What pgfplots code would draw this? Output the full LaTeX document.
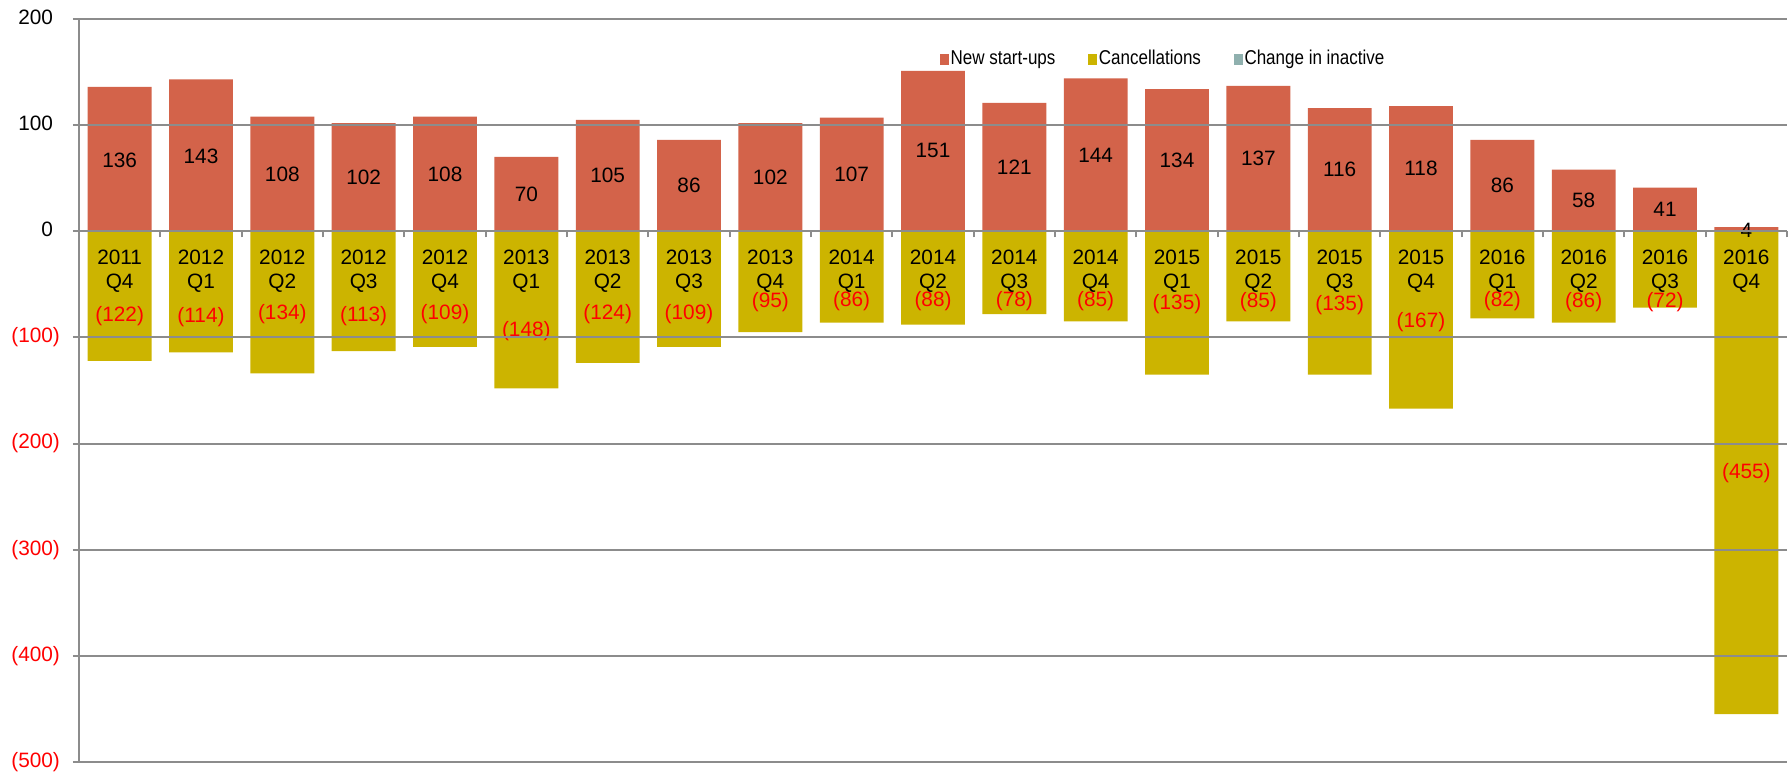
\documentclass[border=0pt]{standalone}
\usepackage{pgfplots}
\pgfplotsset{compat=1.18}
\usepackage{pgfplotstable}
\usepackage{fontspec}
\setmainfont{Liberation Sans}
\newfontfamily\legendfont[FakeStretch=0.85]{Liberation Sans}
\definecolor{newc}{RGB}{211,99,74}
\definecolor{canc}{RGB}{204,180,0}
\definecolor{inact}{RGB}{143,176,174}
\definecolor{gridc}{RGB}{140,140,140}

\pgfplotstableread{
x new canc
0 136 -122
1 143 -114
2 108 -134
3 102 -113
4 108 -109
5 70 -148
6 105 -124
7 86 -109
8 102 -95
9 107 -86
10 151 -88
11 121 -78
12 144 -85
13 134 -135
14 137 -85
15 116 -135
16 118 -167
17 86 -82
18 58 -86
19 41 -72
20 4 -455
}\data

\pgfplotstableread{
x y lab
0 67 136
1 71 143
2 54 108
3 51 102
4 54 108
5 35 70
6 52.5 105
7 43 86
8 51 102
9 53.5 107
10 76 151
11 60.5 121
12 72 144
13 67 134
14 68.5 137
15 58 116
16 59 118
17 43 86
18 29 58
19 20.5 41
20 1 4
}\poslab

\pgfplotstableread{
x y lab
0 -80 (122)
1 -81 (114)
2 -78 (134)
3 -80 (113)
4 -78 (109)
5 -94 (148)
6 -78 (124)
7 -78 (109)
8 -67 (95)
9 -66 (86)
10 -66 (88)
11 -66 (78)
12 -66 (85)
13 -69 (135)
14 -67 (85)
15 -70 (135)
16 -86 (167)
17 -66 (82)
18 -66.5 (86)
19 -67 (72)
20 -228 (455)
}\canclab

\begin{document}
\begin{tikzpicture}[font=\fontsize{10.4}{12}\selectfont]
\begin{axis}[
  set layers=axis on top,
  scale only axis, width=854pt, height=371.5pt,
  xmin=-0.5, xmax=20.5, ymin=-500, ymax=200,
  axis x line*=middle, axis y line*=left,
  axis line style={gridc, line width=1pt},
  ytick={-500,-400,...,200},
  yticklabels={\textcolor{red}{(500)},\textcolor{red}{(400)},\textcolor{red}{(300)},\textcolor{red}{(200)},\textcolor{red}{(100)},0\phantom{)},100\phantom{)},200\phantom{)}},
  ymajorgrids, grid style={gridc, line width=1pt, /pgfplots/on layer=axis background},
  xtick={0,...,20},
  xticklabels={{2011\\Q4},{2012\\Q1},{2012\\Q2},{2012\\Q3},{2012\\Q4},{2013\\Q1},{2013\\Q2},{2013\\Q3},{2013\\Q4},{2014\\Q1},{2014\\Q2},{2014\\Q3},{2014\\Q4},{2015\\Q1},{2015\\Q2},{2015\\Q3},{2015\\Q4},{2016\\Q1},{2016\\Q2},{2016\\Q3},{2016\\Q4}},
  tick style={gridc, line width=1pt},
  major x tick style={draw=none},
  minor xtick={-0.5,0.5,...,20.5},
  minor tick length=3pt, major tick length=3pt,
  xtick align=outside, ytick align=outside,
  xticklabel style={align=center, inner sep=0pt, font=\fontsize{10.4}{12}\selectfont, yshift=-6.27pt},
  yticklabel style={xshift=-3pt, font=\fontsize{10.4}{12}\selectfont},
  clip=false,
  legend columns=3,
  legend style={draw=none, fill=none, at={(0.5004,0.946)}, anchor=west,
    font=\fontsize{10}{12}\legendfont,
    /tikz/every even column/.append style={column sep=15.5pt},
    nodes={inner sep=1pt}},
  legend image code/.code={\fill[#1] (0pt,-2.75pt) rectangle (4.25pt,2.75pt);},
]
\addplot[ybar, bar width=0.785, bar shift=0pt, fill=newc, draw=none] table[x=x,y=new]{\data};
\addlegendentry{New start-ups}
\addplot[ybar, bar width=0.785, bar shift=0pt, fill=canc, draw=none] table[x=x,y=canc]{\data};
\addlegendentry{Cancellations}
\addlegendimage{fill=inact, draw=none}
\addlegendentry{Change in inactive}
\addplot[only marks, mark=*, mark size=0pt, mark options={draw=none, fill=none}, forget plot,
  nodes near coords, point meta=explicit symbolic,
  nodes near coords style={anchor=center, inner sep=0pt, text=black, font=\fontsize{10.4}{12}\selectfont}]
  table[x=x,y=y,meta=lab]{\poslab};
\addplot[only marks, mark=*, mark size=0pt, mark options={draw=none, fill=none}, forget plot,
  nodes near coords, point meta=explicit symbolic,
  nodes near coords style={anchor=center, inner sep=0pt, text=red, font=\fontsize{10.4}{12}\selectfont}]
  table[x=x,y=y,meta=lab]{\canclab};
\end{axis}
\path ([xshift=-39.5pt,yshift=-6.5pt]current axis.south west) rectangle ([xshift=2pt,yshift=9.5pt]current axis.north east);
\end{tikzpicture}
\end{document}
